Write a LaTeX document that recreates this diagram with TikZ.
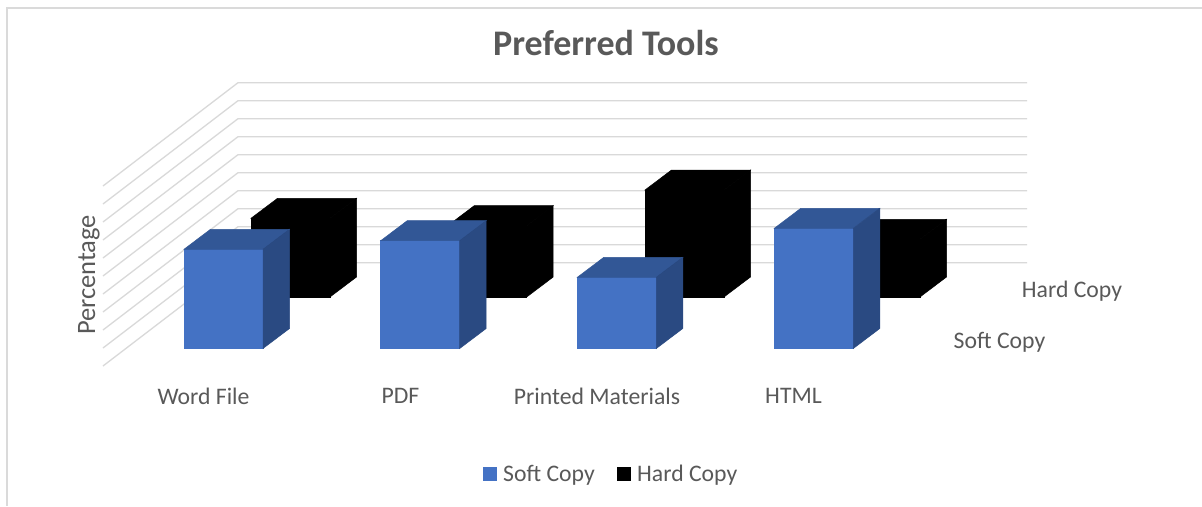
\documentclass[tikz,border=0pt]{standalone}
\usepackage{fontspec}
\setmainfont{Carlito}
\begin{document}
\begin{tikzpicture}[x=1pt,y=-1pt,
  every node/.style={inner sep=0pt, text=labelgrey},
  lbl/.style={font=\fontsize{23.7}{28}\selectfont},
  grid/.style={draw=gridgrey, line width=1.3pt},
  frame/.style={draw=framegrey, line width=2pt}]
\definecolor{labelgrey}{HTML}{595959}
\definecolor{gridgrey}{HTML}{D9D9D9}
\definecolor{framegrey}{HTML}{DADADA}
\definecolor{softfront}{HTML}{4472C4}
\definecolor{softtop}{HTML}{325796}
\definecolor{softside}{HTML}{2A4A82}
% 3-D column: left x, top y, bottom y, front / top / side colours
\newcommand{\cuboid}[6]{%
  \filldraw[#4, line width=0.5pt, line join=miter] (#1,#2) rectangle (#1+79,#3);
  \filldraw[#5, line width=0.5pt] (#1,#2) -- (#1+26.5,#2-20) -- (#1+105.5,#2-20) -- (#1+79,#2) -- cycle;
  \filldraw[#6, line width=0.5pt] (#1+79,#2) -- (#1+105.5,#2-20) -- (#1+105.5,#3-20) -- (#1+79,#3) -- cycle;}
\useasboundingbox (0,0) rectangle (1202,506);
\fill[white] (0,0) rectangle (1202,506);
% chart frame
\draw[frame] (1202,8) -- (6.5,8) -- (6.5,506);
% back wall and side wall gridlines
\foreach \k in {0,...,10} {
  \draw[grid] (103,103.3+82.7+18*\k) -- (238,82.7+18*\k) -- (1027,82.7+18*\k);
}
% back row: Hard Copy
\cuboid{251}{218.3}{297}{black}{black}{black}
\cuboid{447.7}{225.7}{297}{black}{black}{black}
\cuboid{645}{190}{297}{black}{black}{black}
\cuboid{841}{239.3}{297}{black}{black}{black}
% front row: Soft Copy
\cuboid{184}{249.3}{348.5}{softfront}{softtop}{softside}
\cuboid{380.7}{240.7}{348.5}{softfront}{softtop}{softside}
\cuboid{577.3}{277.3}{348.5}{softfront}{softtop}{softside}
\cuboid{774.3}{228.3}{348.5}{softfront}{softtop}{softside}
% title
\node (title) at (606,43) {\fontsize{36}{40}\selectfont\bfseries Preferred Tools};
% axis title
\node[rotate=90, font=\fontsize{26.5}{30}\selectfont] (ytitle) at (89,275) {Percentage};
% categories
\node[lbl] (catword) at (203.5,396) {Word File};
\node[lbl] (catpdf) at (400.5,396) {PDF};
\node[lbl] (catprint) at (597,396) {Printed Materials};
\node[lbl] (cathtml) at (793.5,396) {HTML};
% series labels
\node[lbl] (serhard) at (1072,291) {Hard Copy};
\node[lbl] (sersoft) at (999.5,342) {Soft Copy};
% legend
\fill[softfront] (483.3,467.3) rectangle (496.7,480.7);
\node[lbl, anchor=west] (legsoft) at (503,475) {Soft Copy};
\fill[black] (617.3,467.3) rectangle (630.7,480.7);
\node[lbl, anchor=west] (leghard) at (637,475) {Hard Copy};
\end{tikzpicture}
\end{document}
